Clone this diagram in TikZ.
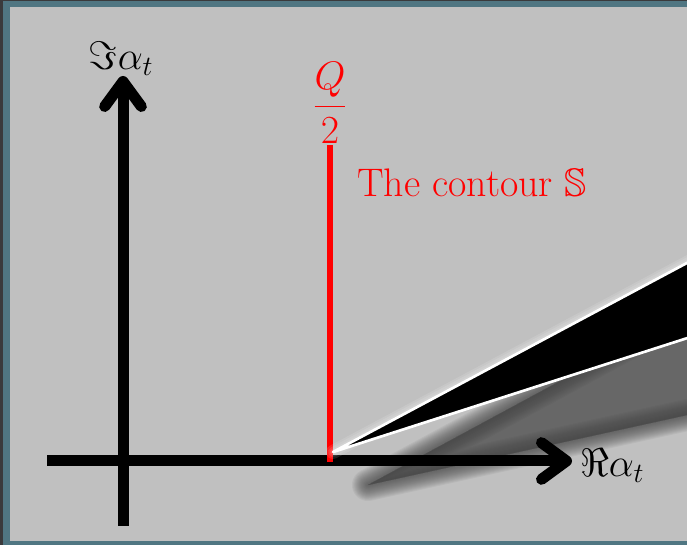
\RequirePackage{fix-cm}
\documentclass[tikz,border=0pt]{standalone}
\usepackage{amsmath}
\usepackage{amssymb}
\usetikzlibrary{arrows.meta,positioning,calc}
\definecolor{frameteal}{RGB}{80,118,130}
\definecolor{framedark}{RGB}{58,58,60}
\definecolor{panelgray}{RGB}{192,192,192}
\definecolor{shadowgray}{RGB}{70,70,70}

\begin{document}
\begin{tikzpicture}[x=0.03cm,y=-0.03cm,
  axis/.style={line width=0.33cm,-{Straight Barb[length=0.75cm,width=1.1cm,round]}},
  contour/.style={red,line width=0.19cm},
  lbl/.style={font=\fontsize{34}{40}\selectfont}]
\useasboundingbox (0,0) rectangle (687,545);

% Frame
\fill[framedark] (0,0) rectangle (687,545);
\fill[frameteal] (3,1) rectangle (687,545);
\fill[panelgray] (10,7) rectangle (687,541);

% Shadow of the wedge
\foreach \w in {32,30,...,2}
  \filldraw[shadowgray, opacity=0.07, line width=\w*0.03cm, line join=round]
    (368,485) -- (710,300) -- (710,410) -- cycle;

% Axes
\coordinate (origin) at (123,461);
\coordinate (xstart) at (47,461);
\coordinate (xend) at (572,461);
\coordinate (ystart) at (123,526);
\coordinate (yend) at (123,76);
\draw[axis] (xstart) -- (xend);
\draw[axis] (ystart) -- (yend);
\node[lbl, anchor=base west] (relabel) at (576,477) {$\Re\alpha_t$};
\node[lbl, anchor=base] (imlabel) at (121,70) {$\Im\alpha_t$};

% Contour
\coordinate (cbottom) at (330,462);
\coordinate (ctop) at (330,145);
\draw[contour] (cbottom) -- (ctop);
\node[lbl, red, above=1pt of ctop, inner sep=0pt] (half) {$\dfrac{Q}{2}$};
\node[lbl, red, anchor=base west] (contourlabel) at (353,197) {The contour $\mathbb{S}$};

% Wedge
\coordinate (apex) at (333,452);
\foreach \w in {14,10,6}
  \draw[white, opacity=0.12, line width=\w*0.03cm, line cap=round] (apex) -- (700,256);
\filldraw[black, draw=white, line width=0.08cm, line join=round]
  (apex) -- (700,256) -- (700,334) -- cycle;
\end{tikzpicture}
\end{document}
